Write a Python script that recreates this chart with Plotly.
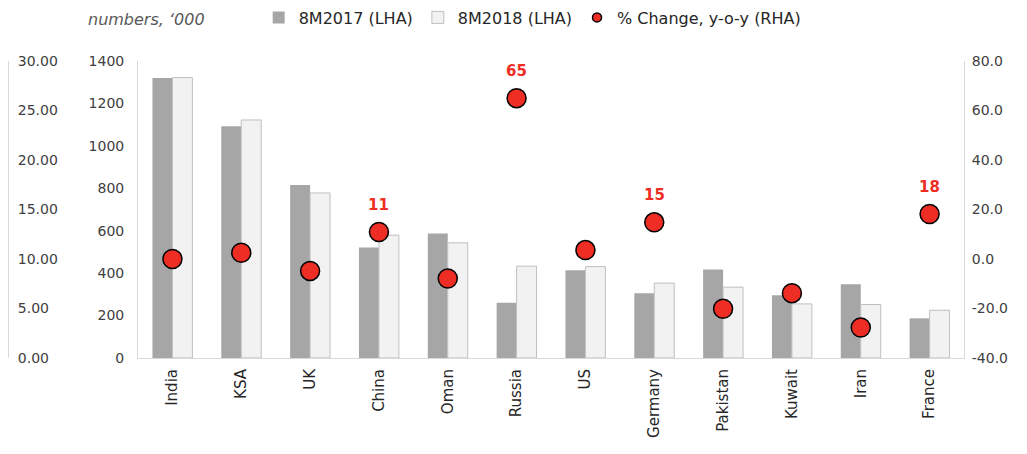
import plotly.graph_objects as go

categories = ["India", "KSA", "UK", "China", "Oman", "Russia", "US",
              "Germany", "Pakistan", "Kuwait", "Iran", "France"]
tourists_8m2017 = [1320, 1092, 815, 521, 587, 260, 414, 305, 417, 296, 348, 187]
tourists_8m2018 = [1322, 1122, 778, 579, 543, 433, 431, 353, 334, 255, 252, 225]
pct_change = [0.0, 2.5, -4.8, 10.9, -7.9, 65.0, 3.6, 14.8, -20.1, -13.8, -27.7, 18.2]
pct_labels = ["", "", "", "11", "", "65", "", "15", "", "", "", "18"]

left_ticks = [0, 200, 400, 600, 800, 1000, 1200, 1400]
right_ticks = [-40, -20, 0, 20, 40, 60, 80]
side_ticks = [0, 5, 10, 15, 20, 25, 30]

FONT = "DejaVu Sans"
TXT = "#404040"
AXLINE = "#D9D9D9"
RED = "#EE2E24"

fig = go.Figure()
fig.add_trace(go.Bar(
    x=categories, y=tourists_8m2017, name="8M2017 (LHA)",
    marker=dict(color="#A6A6A6", line=dict(width=0)),
    yaxis="y",
))
fig.add_trace(go.Bar(
    x=categories, y=tourists_8m2018, name="8M2018 (LHA)",
    marker=dict(color="#F2F2F2", line=dict(color="#BFBFBF", width=1)),
    yaxis="y",
))
fig.add_trace(go.Scatter(
    x=categories, y=pct_change, mode="markers", yaxis="y2",
    marker=dict(color=RED, size=19, line=dict(color="black", width=1.5)),
    showlegend=False, name="% Change, y-o-y (RHA)",
))
# legend entry with a small marker
fig.add_trace(go.Scatter(
    x=[None], y=[None], mode="markers", yaxis="y2",
    marker=dict(color=RED, size=9, line=dict(color="black", width=1.5)),
    name="% Change, y-o-y (RHA)",
))
# stray axis on far left
fig.add_trace(go.Scatter(x=[None], y=[None], yaxis="y3", showlegend=False))

for c, v, t in zip(categories, pct_change, pct_labels):
    if t:
        fig.add_annotation(
            x=c, y=v, xref="x", yref="y2", text=t, showarrow=False,
            yshift=27, font=dict(family=FONT, size=15, color=RED, weight="bold"),
        )

fig.add_annotation(
    text="<i>Tourist<br>numbers, \u2018000</i>", xref="paper", yref="paper",
    x=0.0816, y=1.101, xanchor="left", yanchor="bottom", align="left",
    showarrow=False, font=dict(family=FONT, size=16, color="#595959"),
)

fig.update_layout(
    width=1019, height=446,
    margin=dict(l=0, r=63, t=53, b=96),
    paper_bgcolor="white", plot_bgcolor="white",
    barmode="group", bargap=0.42, bargroupgap=0,
    font=dict(family=FONT, color=TXT),
    legend=dict(orientation="h", xref="container", yref="container",
                x=0.246, y=0.9787, xanchor="left", yanchor="middle",
                font=dict(family=FONT, size=16, color="#262626"),
                bgcolor="rgba(0,0,0,0)"),
    xaxis=dict(domain=[0.136, 1], range=[-0.5, 11.5], showline=True,
               linecolor=AXLINE, linewidth=1,
               tickangle=-90, tickfont=dict(size=15, color="#262626"),
               ticks="", ticklabelstandoff=4, showgrid=False, automargin=False),
    yaxis=dict(range=[0, 1400], tickvals=left_ticks, showline=True,
               linecolor=AXLINE, showgrid=False, zeroline=False,
               tickfont=dict(size=14, color=TXT), ticklabelstandoff=10,
               anchor="x", automargin=False),
    yaxis2=dict(range=[-40, 80], tickvals=right_ticks,
                ticktext=[f"{v:.1f}" for v in right_ticks],
                overlaying="y", side="right", anchor="x", showline=True,
                linecolor=AXLINE, showgrid=False, zeroline=False,
                tickfont=dict(size=14, color=TXT), ticklabelstandoff=4,
                automargin=False),
    yaxis3=dict(range=[0, 30], tickvals=side_ticks,
                ticktext=[f"{v:.2f}" for v in side_ticks],
                overlaying="y", side="right", anchor="free", position=0,
                showline=True, linecolor=AXLINE, showgrid=False, zeroline=False,
                tickfont=dict(size=14, color=TXT), ticklabelstandoff=6,
                automargin=False),
)

fig.write_html("out.html")
